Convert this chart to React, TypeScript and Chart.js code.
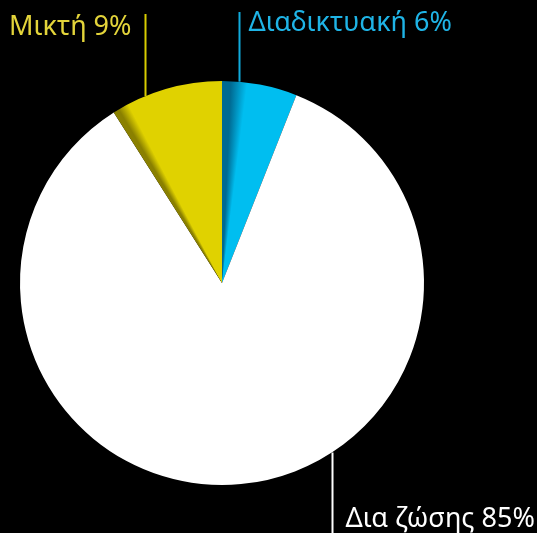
import React, { useEffect, useRef } from "react";
import { Chart, registerables } from "chart.js";

Chart.register(...registerables);

const categories = ["Διαδικτυακή", "Δια ζώσης", "Μικτή"];
const values = [6, 85, 9];
const baseColors = ["#00BEF0", "#FFFFFF", "#E0D200"];
const darkColors = ["#006A92", "#FFFFFF", "#8A8000"];
const textColors = ["#1FB4E6", "#FFFFFF", "#E3D43A"];
const lineColors = ["#10AADC", "#FFFFFF", "#D8CC00"];

// label placement (position along slice, leader line direction, text offsets)
const anchorFrac = [0.22, 0.41, 0.31];
const lineEndY = [12, 533, 14];
const textSide = ["right", "right", "left"];
const textGap = [9, 13, 14];
const textBaseline = [31, 527, 35];
const shadeWidth = [0.02, 0, 0.013];

const FONT = '27px "Noto Sans", "DejaVu Sans", sans-serif';

const labelPlugin = {
  id: "leaderLabels",
  afterDraw(chart: any) {
    const ctx = chart.ctx;
    const meta = chart.getDatasetMeta(0);
    ctx.save();
    ctx.font = FONT;
    meta.data.forEach((arc: any, i: number) => {
      const { x, y, startAngle, endAngle, outerRadius } = arc.getProps(
        ["x", "y", "startAngle", "endAngle", "outerRadius"],
        true
      );
      const a = startAngle + anchorFrac[i] * (endAngle - startAngle);
      const lx = Math.round(x + outerRadius * Math.cos(a)) + 0.5;
      const ly = y + outerRadius * Math.sin(a);
      ctx.strokeStyle = lineColors[i];
      ctx.lineWidth = 2;
      ctx.beginPath();
      ctx.moveTo(lx, ly);
      ctx.lineTo(lx, lineEndY[i]);
      ctx.stroke();
      ctx.fillStyle = textColors[i];
      ctx.textBaseline = "alphabetic";
      const txt = `${categories[i]} ${values[i]}%`;
      if (textSide[i] === "right") {
        ctx.textAlign = "left";
        ctx.fillText(txt, lx + textGap[i], textBaseline[i]);
      } else {
        ctx.textAlign = "right";
        ctx.fillText(txt, lx - textGap[i], textBaseline[i]);
      }
    });
    ctx.restore();
  },
};

export default function App() {
  const ref = useRef<HTMLCanvasElement>(null);
  useEffect(() => {
    document.body.style.margin = "0";
    document.body.style.background = "#000";
    const total = values.reduce((s, v) => s + v, 0);
    const starts: number[] = [];
    let acc = 0;
    values.forEach((v) => {
      starts.push(acc / total);
      acc += v;
    });
    const chart = new Chart(ref.current!, {
      type: "pie",
      data: {
        labels: categories,
        datasets: [
          {
            data: values,
            borderWidth: 0,
            backgroundColor: (c: any) => {
              const i = c.dataIndex;
              const ch = c.chart;
              const area = ch.chartArea;
              if (!area || i === undefined) return baseColors[i ?? 0];
              if (shadeWidth[i] === 0) return baseColors[i];
              const cx = (area.left + area.right) / 2;
              const cy = (area.top + area.bottom) / 2;
              const g = ch.ctx.createConicGradient(-Math.PI / 2, cx, cy);
              const s = starts[i];
              const w = shadeWidth[i];
              if (s > 0) g.addColorStop(0, baseColors[i]);
              g.addColorStop(s, darkColors[i]);
              g.addColorStop(s + w * 0.35, darkColors[i] + "");
              g.addColorStop(s + w, baseColors[i]);
              g.addColorStop(1, baseColors[i]);
              return g;
            },
          },
        ],
      },
      options: {
        responsive: false,
        animation: false,
        layout: { padding: { left: 20, right: 113, top: 81, bottom: 48 } },
        plugins: {
          legend: { display: false },
          tooltip: { enabled: false },
        },
      },
      plugins: [labelPlugin],
    });
    return () => chart.destroy();
  }, []);
  return (
    <div style={{ width: 537, height: 533, background: "#000" }}>
      <canvas ref={ref} width={537} height={533} />
    </div>
  );
}
